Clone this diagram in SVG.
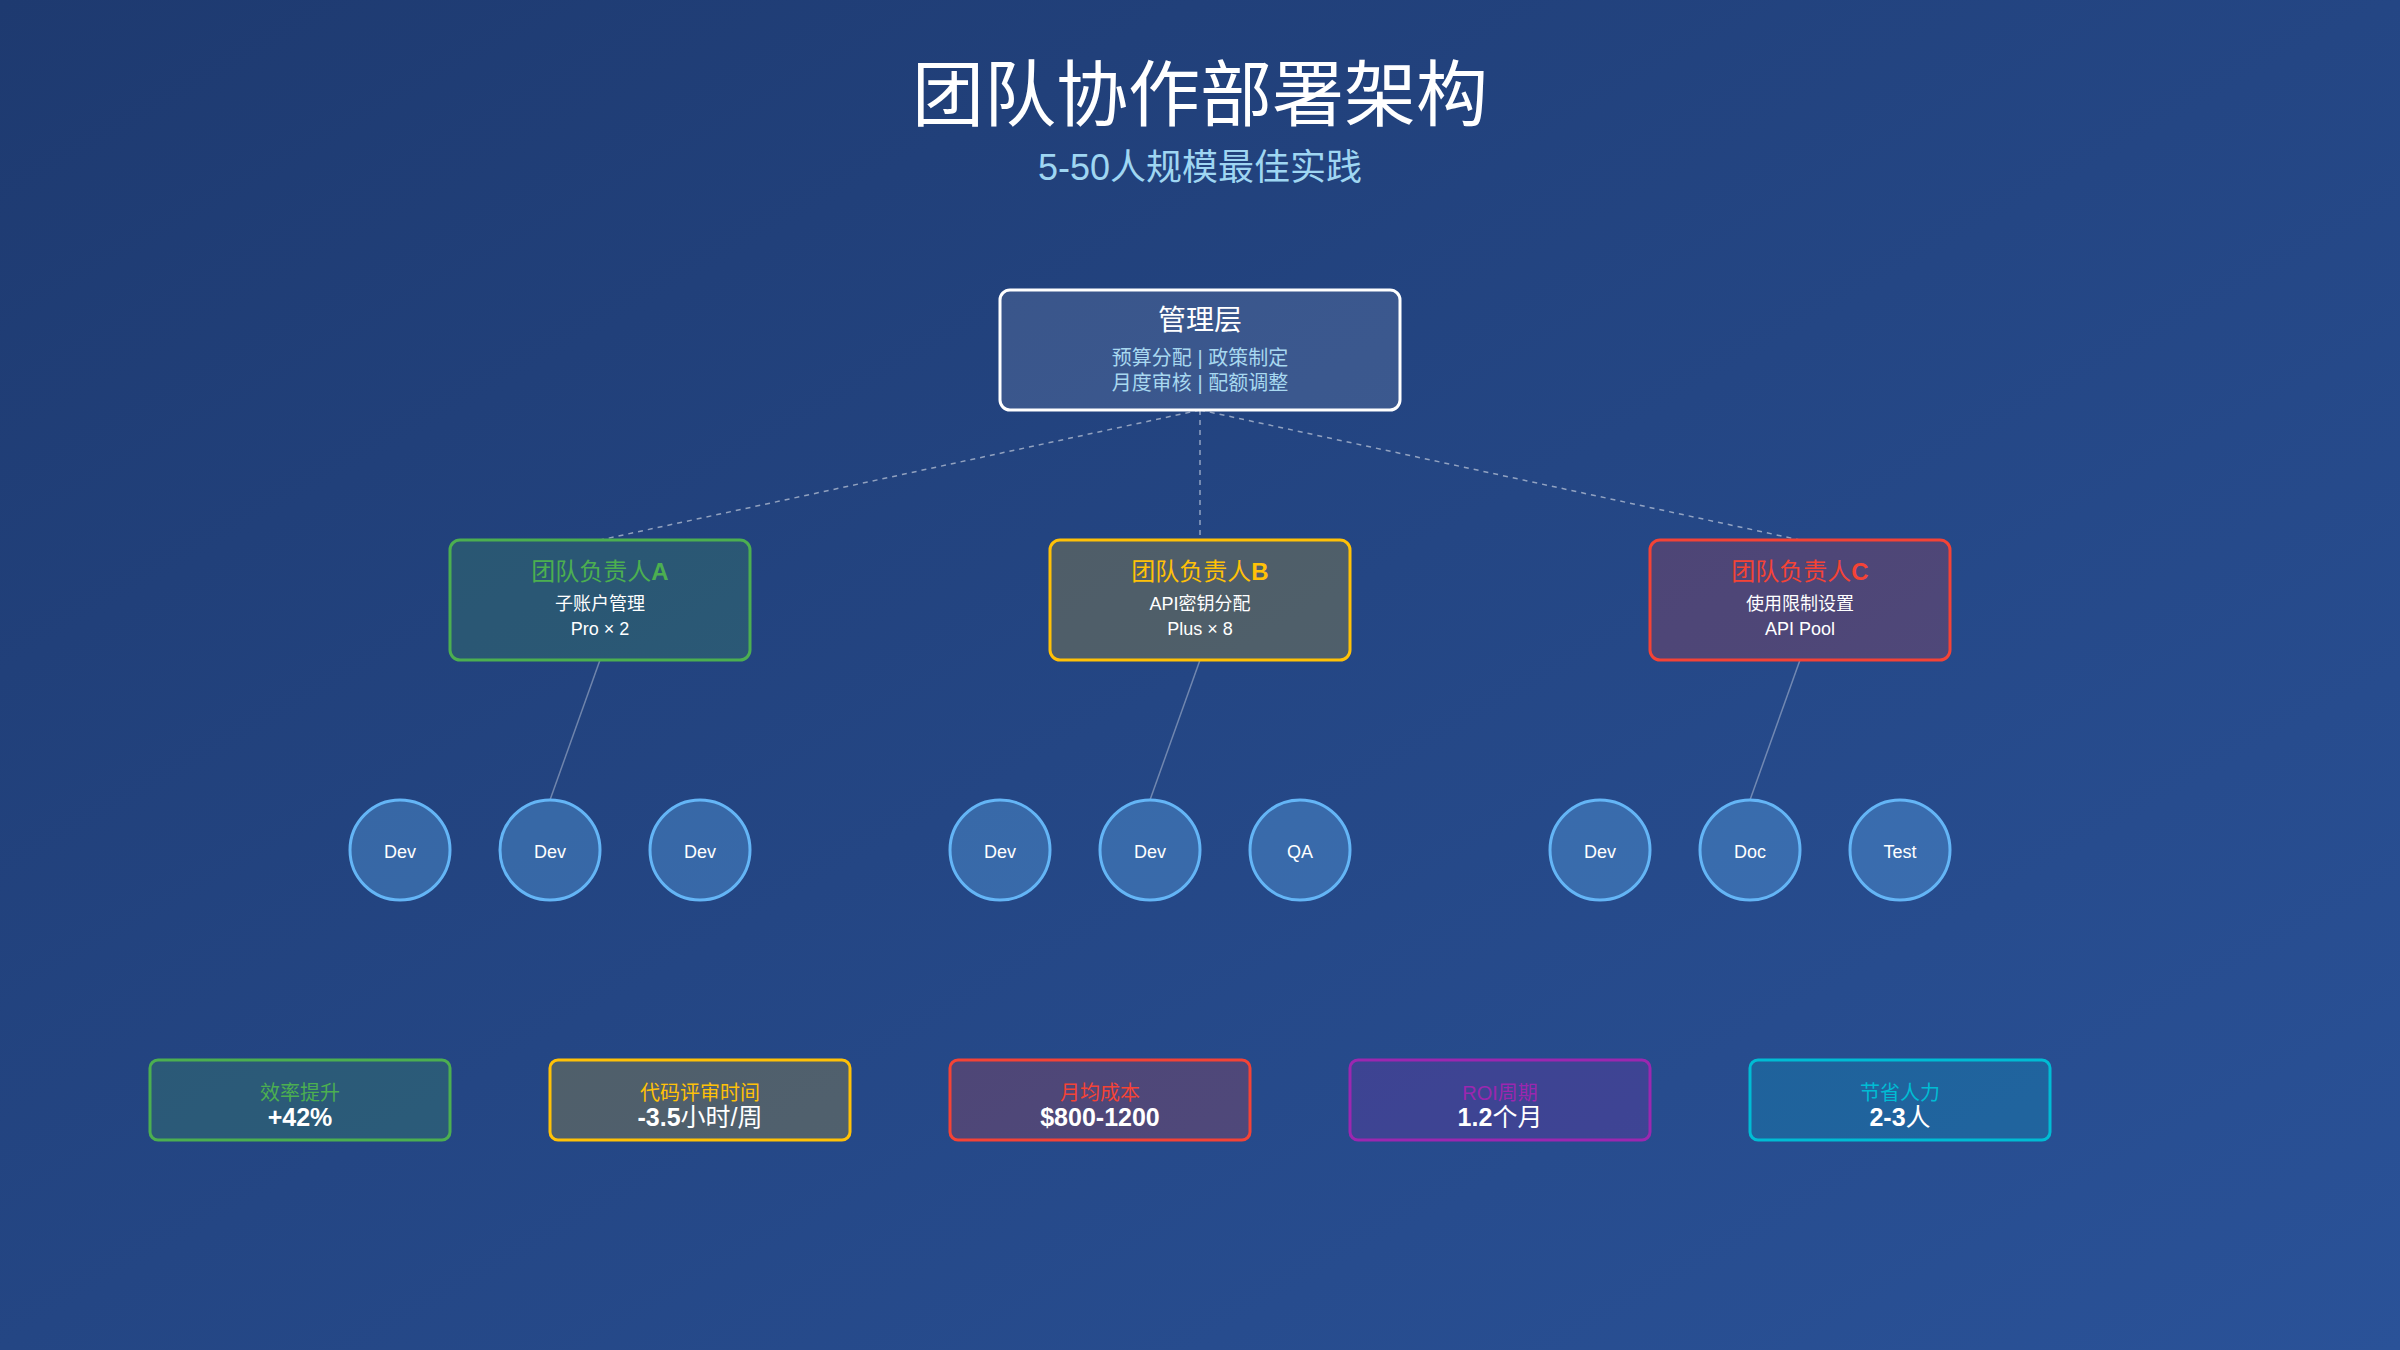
<svg xmlns="http://www.w3.org/2000/svg" width="2400" height="1350" viewBox="0 0 2400 1350">
<defs>
<linearGradient id="bg" x1="0" y1="0" x2="1" y2="1">
<stop offset="0" stop-color="#1e3a70"/>
<stop offset="1" stop-color="#2a5298"/>
</linearGradient>
<style>
text{font-family:"Liberation Sans","Noto Sans CJK SC",sans-serif;text-anchor:middle}
.title{font-size:72px;fill:#ffffff}
.sub{font-size:36px;fill:#9fd6f2}
.mgmt{fill:#ffffff;fill-opacity:0.11;stroke:#ffffff;stroke-width:3}
.mt{font-size:28px;fill:#ffffff}
.ml{font-size:20px;fill:#a8d8f0}
.team{stroke-width:3}
.tt{font-size:24px}
.b{font-weight:bold}
.n{font-weight:normal}
.tl{font-size:18px;fill:#ffffff}
.circ{fill:#64b5f6;fill-opacity:0.32;stroke:#64b5f6;stroke-width:3}
.ct{font-size:18px;fill:#ffffff}
.mb{stroke-width:3}
.mlab{font-size:20px}
.mval{font-size:25px;fill:#ffffff}
.dash{stroke:#ffffff;stroke-opacity:0.5;stroke-width:1.5;stroke-dasharray:5 5;fill:none}
.solid{stroke:#ffffff;stroke-opacity:0.35;stroke-width:1.5;fill:none}
.g{stroke:#4caf50;fill:#4caf50;fill-opacity:0.2}
.y{stroke:#ffc107;fill:#ffc107;fill-opacity:0.2}
.r{stroke:#f44336;fill:#f44336;fill-opacity:0.2}
.p{stroke:#9c27b0;fill:#9c27b0;fill-opacity:0.2}
.c{stroke:#00bcd4;fill:#00bcd4;fill-opacity:0.2}
</style>
</defs>
<rect width="2400" height="1350" fill="url(#bg)"/>
<g id="header">
<text class="title" x="1200" y="120">团队协作部署架构</text>
<text class="sub" x="1200" y="180">5-50人规模最佳实践</text>
</g>
<g id="connectors">
<line class="dash" x1="1200" y1="410" x2="600" y2="540"/>
<line class="dash" x1="1200" y1="410" x2="1200" y2="540"/>
<line class="dash" x1="1200" y1="410" x2="1800" y2="540"/>
<line class="solid" x1="600" y1="660" x2="550" y2="800"/>
<line class="solid" x1="1200" y1="660" x2="1150" y2="800"/>
<line class="solid" x1="1800" y1="660" x2="1750" y2="800"/>
</g>
<g id="management">
<rect class="mgmt" x="1000" y="290" width="400" height="120" rx="10"/>
<text class="mt" x="1200" y="330">管理层</text>
<text class="ml" x="1200" y="365">预算分配 | 政策制定</text>
<text class="ml" x="1200" y="390">月度审核 | 配额调整</text>
</g>
<g id="teamA">
<rect class="team g" x="450" y="540" width="300" height="120" rx="10"/>
<text class="tt" x="600" y="580" fill="#4caf50">团队负责人<tspan class="b">A</tspan></text>
<text class="tl" x="600" y="610">子账户管理</text>
<text class="tl" x="600" y="635">Pro × 2</text>
</g>
<g id="teamB">
<rect class="team y" x="1050" y="540" width="300" height="120" rx="10"/>
<text class="tt" x="1200" y="580" fill="#ffc107">团队负责人<tspan class="b">B</tspan></text>
<text class="tl" x="1200" y="610">API密钥分配</text>
<text class="tl" x="1200" y="635">Plus × 8</text>
</g>
<g id="teamC">
<rect class="team r" x="1650" y="540" width="300" height="120" rx="10"/>
<text class="tt" x="1800" y="580" fill="#f44336">团队负责人<tspan class="b">C</tspan></text>
<text class="tl" x="1800" y="610">使用限制设置</text>
<text class="tl" x="1800" y="635">API Pool</text>
</g>
<g id="memberA1"><circle class="circ" cx="400" cy="850" r="50"/><text class="ct" x="400" y="858">Dev</text></g>
<g id="memberA2"><circle class="circ" cx="550" cy="850" r="50"/><text class="ct" x="550" y="858">Dev</text></g>
<g id="memberA3"><circle class="circ" cx="700" cy="850" r="50"/><text class="ct" x="700" y="858">Dev</text></g>
<g id="memberB1"><circle class="circ" cx="1000" cy="850" r="50"/><text class="ct" x="1000" y="858">Dev</text></g>
<g id="memberB2"><circle class="circ" cx="1150" cy="850" r="50"/><text class="ct" x="1150" y="858">Dev</text></g>
<g id="memberB3"><circle class="circ" cx="1300" cy="850" r="50"/><text class="ct" x="1300" y="858">QA</text></g>
<g id="memberC1"><circle class="circ" cx="1600" cy="850" r="50"/><text class="ct" x="1600" y="858">Dev</text></g>
<g id="memberC2"><circle class="circ" cx="1750" cy="850" r="50"/><text class="ct" x="1750" y="858">Doc</text></g>
<g id="memberC3"><circle class="circ" cx="1900" cy="850" r="50"/><text class="ct" x="1900" y="858">Test</text></g>
<g id="metric1">
<rect class="mb g" x="150" y="1060" width="300" height="80" rx="8"/>
<text class="mlab" x="300" y="1100" fill="#4caf50">效率提升</text>
<text class="mval b" x="300" y="1126">+42%</text>
</g>
<g id="metric2">
<rect class="mb y" x="550" y="1060" width="300" height="80" rx="8"/>
<text class="mlab" x="700" y="1100" fill="#ffc107">代码评审时间</text>
<text class="mval" x="700" y="1126"><tspan class="b">-3.5</tspan>小时/周</text>
</g>
<g id="metric3">
<rect class="mb r" x="950" y="1060" width="300" height="80" rx="8"/>
<text class="mlab" x="1100" y="1100" fill="#f44336">月均成本</text>
<text class="mval b" x="1100" y="1126">$800-1200</text>
</g>
<g id="metric4">
<rect class="mb p" x="1350" y="1060" width="300" height="80" rx="8"/>
<text class="mlab" x="1500" y="1100" fill="#9c27b0">ROI周期</text>
<text class="mval" x="1500" y="1126"><tspan class="b">1.2</tspan>个月</text>
</g>
<g id="metric5">
<rect class="mb c" x="1750" y="1060" width="300" height="80" rx="8"/>
<text class="mlab" x="1900" y="1100" fill="#00bcd4">节省人力</text>
<text class="mval" x="1900" y="1126"><tspan class="b">2-3</tspan>人</text>
</g>
</svg>
